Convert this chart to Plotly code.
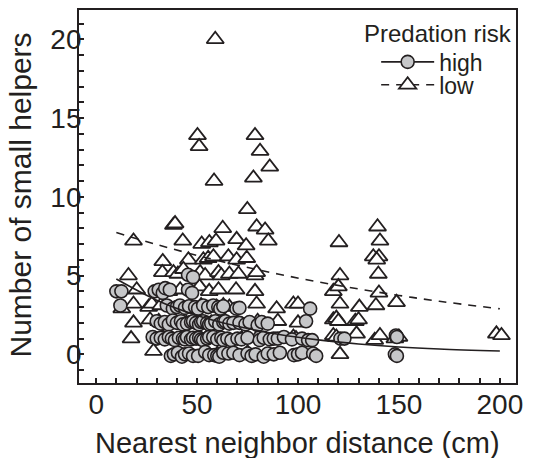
import plotly.graph_objects as go

# ---- data: high predation risk (circles) ----
high_x = [45.5, 48.0,
          10.0, 12.5, 29.0, 31.0, 33.0, 34.2, 36.5, 45.5, 47.5,
          12.0, 35.0, 38.0, 40.0, 41.5, 44.0, 46.0, 49.0, 50.5, 53.0, 55.5, 58.0, 60.5, 61.5,
          63.0, 69.5, 71.0, 106.0,
          30.0, 32.0, 34.0, 36.0, 38.0, 40.0, 42.0, 43.0, 45.0, 47.0, 48.0, 49.5, 51.0, 52.0,
          53.0, 55.0, 56.0, 57.0, 59.0, 61.0, 63.0, 64.0, 66.0, 68.0, 71.0, 74.0, 76.0, 80.0,
          82.0, 85.0, 104.0,
          28.0, 30.0, 32.0, 34.0, 36.0, 37.5, 39.0, 41.0, 43.0, 44.0, 45.0, 47.0, 48.0, 49.5,
          51.0, 52.0, 53.0, 55.0, 56.0, 58.0, 60.0, 62.0, 63.0, 65.0, 67.0, 70.0, 72.0, 75.0,
          81.0, 83.0, 86.0, 88.0, 90.0, 93.0, 97.0, 102.0, 105.0, 107.0, 121.0, 123.0, 148.5, 149.0,
          37.0, 38.5, 40.5, 42.5, 44.0, 46.0, 48.0, 50.5, 54.0, 56.0, 58.5, 60.0, 61.0, 63.0,
          65.5, 68.0, 71.0, 75.0, 77.0, 79.0, 83.0, 85.0, 88.0, 91.0, 98.0, 100.0, 102.0,
          107.5, 109.0, 148.0, 149.0]
high_y = [5.05, 4.9,
          4.0, 4.0, 4.0, 4.1, 3.9, 4.2, 4.1, 4.1, 3.9,
          3.1, 3.1, 2.9, 3.0, 3.1, 2.95, 3.05, 3.0, 2.9, 3.1, 3.0, 3.1, 3.0, 2.9,
          3.05, 2.9, 2.95, 2.9,
          2.1, 1.95, 2.05, 1.9, 2.15, 2.0, 2.1, 1.9, 1.95, 2.05, 2.1, 2.0, 1.9, 2.05,
          2.1, 2.0, 1.9, 1.95, 2.1, 1.9, 2.05, 2.1, 1.95, 2.0, 2.0, 1.9, 2.05, 1.85,
          2.05, 1.95, 2.1,
          1.1, 1.0, 1.05, 0.95, 1.1, 1.0, 0.9, 1.05, 1.0, 0.95, 1.1, 0.95, 1.05, 1.0,
          1.05, 0.95, 0.9, 1.0, 1.1, 1.1, 0.95, 1.05, 0.9, 1.0, 0.9, 1.0, 0.95, 1.05,
          0.9, 1.05, 0.95, 1.0, 1.0, 1.1, 0.95, 1.0, 0.9, 0.9, 1.0, 1.0, 1.2, 1.1,
          -0.1, 0.0, 0.1, -0.15, 0.0, 0.05, -0.1, -0.1, 0.15, -0.05, -0.05, -0.1, -0.15, 0.1,
          0.05, 0.1, -0.05, 0.05, -0.1, 0.0, -0.15, 0.05, 0.0, 0.1, -0.05, 0.0, 0.1,
          0.05, -0.1, 0.0, -0.1]

# ---- data: low predation risk (triangles) ----
low_x = [59.0,
         50.2, 78.7, 51.0, 81.2, 86.0, 58.4, 77.9, 74.9,
         38.3, 39.1, 62.7, 79.5, 83.7, 139.4,
         18.5, 42.9, 52.3, 56.1, 59.4, 69.6, 74.3, 85.3, 120.3, 140.6,
         33.0, 45.7, 53.1, 55.5, 58.1, 65.5, 69.6, 74.6, 137.3, 140.1, 139.0,
         16.0, 32.8, 38.3, 40.5, 43.2, 51.5, 54.0, 60.6, 62.0, 66.0, 70.5, 78.7, 79.5, 120.8, 139.8,
         20.1, 36.0, 41.6, 51.2, 56.0, 60.6, 69.3, 78.7, 117.5, 120.0, 140.1,
         12.7, 18.5, 26.0, 27.6, 32.0, 47.0, 52.0, 59.7, 63.0, 66.0, 79.5, 89.4, 97.7, 100.0,
         120.8, 130.4, 138.6, 148.8,
         18.5, 26.7, 31.0, 38.0, 44.0, 57.0, 64.0, 70.0, 80.0, 90.0, 100.0, 117.5, 119.0,
         120.0, 128.4, 130.0,
         17.3, 33.0, 45.0, 55.0, 62.0, 72.1, 80.0, 97.7, 99.0, 117.5, 119.0, 129.0, 138.0,
         140.6, 148.0, 150.0, 198.3, 200.8,
         28.4, 60.0, 68.0, 75.0, 120.8]
low_y = [20.0,
         13.9, 13.9, 13.2, 12.9, 11.9, 11.0, 11.2, 9.2,
         8.2, 8.3, 8.0, 8.1, 7.9, 8.1,
         7.2, 7.2, 7.0, 7.1, 7.2, 7.3, 6.9, 7.2, 7.1, 7.2,
         5.9, 6.0, 6.0, 6.1, 6.2, 6.2, 6.0, 6.1, 6.2, 6.2, 6.0,
         5.0, 5.2, 5.2, 5.1, 5.4, 5.2, 5.0, 5.2, 5.0, 5.1, 5.1, 5.0, 5.2, 5.0, 5.1,
         4.1, 4.0, 4.1, 4.3, 4.0, 4.1, 4.1, 4.0, 4.0, 4.3, 3.9,
         2.9, 3.2, 3.0, 3.2, 3.1, 3.0, 3.1, 3.0, 3.1, 3.0, 3.2, 2.9, 3.2, 3.2,
         3.2, 3.0, 3.1, 3.3,
         2.0, 2.2, 2.1, 2.0, 2.1, 2.0, 2.1, 2.0, 2.1, 2.1, 2.0, 2.2, 2.3,
         2.1, 2.1, 2.2,
         1.0, 1.1, 1.0, 1.1, 1.0, 1.0, 1.1, 1.1, 1.0, 1.2, 1.1, 1.3, 0.9,
         1.2, 1.0, 1.1, 1.3, 1.2,
         0.2, 0.0, 0.0, 0.1, 0.0]

# ---- fitted curves ----
fit_x = [10, 30, 50, 70, 90, 110, 130, 150, 170, 200]
fit_high = [4.78, 3.44, 2.47, 1.78, 1.28, 0.92, 0.66, 0.47, 0.34, 0.21]
fit_low = [7.73, 6.97, 6.28, 5.66, 5.10, 4.60, 4.15, 3.74, 3.37, 2.89]

legend_title = "Predation risk"
series_names = ["high", "low"]
x_title = "Nearest neighbor distance (cm)"
y_title = "Number of small helpers"

INK = "#231f20"
FONT = "Arial, Liberation Sans, Helvetica, sans-serif"
DASH = "8px,7px"

circle_marker = dict(symbol="circle", size=13, color="#c6c7c9", line=dict(color=INK, width=1.6))
tri_marker = dict(symbol="triangle-up", size=15, color="white", line=dict(color=INK, width=1.8))

fig = go.Figure()
fig.add_trace(go.Scatter(x=low_x, y=low_y, mode="markers", marker=tri_marker,
                         showlegend=False, hoverinfo="skip"))
fig.add_trace(go.Scatter(x=high_x, y=high_y, mode="markers", marker=circle_marker,
                         showlegend=False, hoverinfo="skip"))
fig.add_trace(go.Scatter(x=fit_x, y=fit_high, mode="lines", line=dict(color=INK, width=1.6),
                         showlegend=False, line_shape="spline", hoverinfo="skip"))
fig.add_trace(go.Scatter(x=fit_x, y=fit_low, mode="lines",
                         line=dict(color=INK, width=1.6, dash=DASH),
                         showlegend=False, line_shape="spline", hoverinfo="skip"))
# legend entries (one per legend so the rows can be spaced like the reference)
fig.add_trace(go.Scatter(x=[None], y=[None], mode="lines+markers", name=series_names[0],
                         marker=circle_marker, line=dict(color=INK, width=1.6), legend="legend"))
fig.add_trace(go.Scatter(x=[None], y=[None], mode="lines+markers", name=series_names[1],
                         marker=tri_marker, line=dict(color=INK, width=1.6, dash=DASH),
                         legend="legend2"))

axis_common = dict(
    showline=True, linecolor=INK, linewidth=1.8, mirror=True,
    ticks="inside", ticklen=5, tickwidth=1.5, tickcolor=INK,
    showgrid=False, zeroline=False, automargin=False,
    tickfont=dict(family=FONT, size=28, color=INK),
)

fig.update_xaxes(range=[-8.5, 208], tick0=0, dtick=50,
                 minor=dict(dtick=10, ticks="inside", ticklen=5, tickwidth=1.5, tickcolor=INK),
                 ticklabelstandoff=-5,
                 **axis_common)
fig.update_yaxes(range=[-1.82, 21.86], tick0=0, dtick=5,
                 minor=dict(dtick=1, ticks="inside", ticklen=5, tickwidth=1.5, tickcolor=INK),
                 ticklabelstandoff=-10,
                 **axis_common)

fig.add_annotation(text=x_title, xref="paper", yref="paper",
                   x=0.5, y=-0.162, xanchor="center", yanchor="middle",
                   showarrow=False, font=dict(family=FONT, size=29, color=INK))
fig.add_annotation(text=y_title, xref="paper", yref="paper", textangle=-90,
                   x=-0.133, y=0.505, xanchor="center", yanchor="middle", borderpad=0,
                   showarrow=False, font=dict(family=FONT, size=30, color=INK))
fig.add_annotation(text=legend_title, xref="paper", yref="paper",
                   x=0.6476, y=0.9383, xanchor="left", yanchor="middle",
                   showarrow=False, font=dict(family=FONT, size=24, color=INK))

legend_common = dict(
    font=dict(family=FONT, size=23, color=INK),
    xanchor="left", yanchor="top", x=0.68,
    bgcolor="rgba(0,0,0,0)", itemwidth=53,
)

fig.update_layout(
    width=550, height=458,
    margin=dict(l=79, r=34, t=10, b=75),
    paper_bgcolor="white", plot_bgcolor="white",
    font=dict(family=FONT, color=INK),
    legend=dict(y=0.9185, **legend_common),
    legend2=dict(y=0.857, **legend_common),
)

# remove the page's default 8px body margin so the figure sits at the window origin
fig.write_html("out.html", config={"displayModeBar": False},
               post_script="document.body.style.margin='0';")
